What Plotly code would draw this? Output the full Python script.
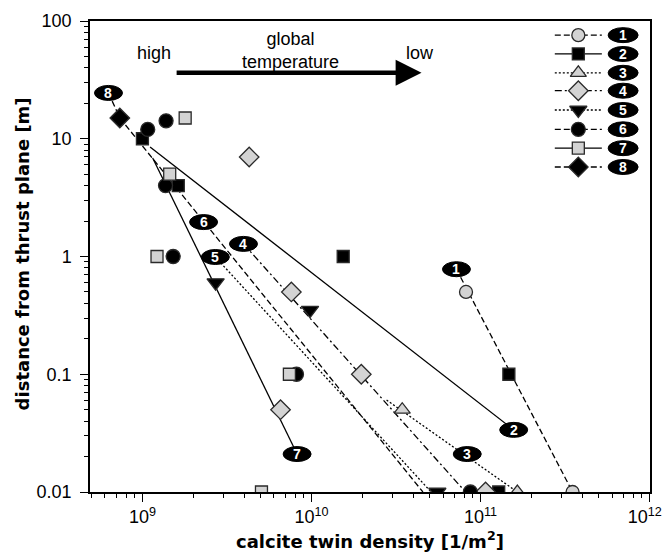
import math
import plotly.graph_objects as go

# ---------------- data ----------------
X_LOG_RANGE = [8.69, 12.002]   # log10 of 4.9e8 .. 1e12
Y_LOG_RANGE = [-2.0, 2.0]      # 0.01 .. 100

series_names = ["1", "2", "3", "4", "5", "6", "7", "8"]

s1_x = [8.2e10, 3.5e11]
s1_y = [0.5, 0.01]
s2_x = [1.0e9, 1.63e9, 1.54e10, 1.47e11, 1.28e11]
s2_y = [10, 4, 1, 0.1, 0.01]
s3_x = [3.44e10, 1.65e11]
s3_y = [0.05, 0.01]
s4_x = [4.28e9, 7.6e9, 1.97e10, 6.56e9, 1.07e11]
s4_y = [7, 0.5, 0.1, 0.05, 0.01]
s5_x = [2.71e9, 9.8e9, 5.55e10]
s5_y = [0.6, 0.35, 0.01]
s6_x = [1.075e9, 1.38e9, 1.37e9, 1.52e9, 8.15e9, 8.7e10]
s6_y = [12, 14.2, 4, 1, 0.1, 0.01]
s7_x = [1.79e9, 1.45e9, 1.22e9, 7.4e9, 5.06e9]
s7_y = [15, 5, 1, 0.1, 0.01]
s8_x = [7.35e8]
s8_y = [15]

# trend lines (log-log fits) drawn in the figure
fit1_x = [7.2e10, 3.5e11]
fit1_y = [0.78, 0.01]
fit2_x = [1.11e9, 1.57e11]
fit2_y = [8.5, 0.0337]
fit3_x = [2.78e10, 1.65e11]
fit3_y = [0.0604, 0.01]
fit4_x = [3.96e9, 8.15e10]
fit4_y = [1.28, 0.01]
fit5_x = [2.7e9, 5.1e10]
fit5_y = [0.99, 0.01]
fit6_x = [7.35e8, 4.56e10]
fit6_y = [15, 0.01]
fit7_x = [1.15e9, 8.22e9]
fit7_y = [6.87, 0.021]
fit8_x = [6.3e8, 7.35e8]
fit8_y = [24.5, 15]

# numbered labels placed on the trend lines
label_x = [7.2e10, 1.57e11, 8.34e10, 3.96e9, 2.7e9, 2.3e9, 8.22e9, 6.3e8]
label_y = [0.78, 0.0337, 0.021, 1.28, 0.99, 1.96, 0.021, 24.5]

# axis ticks
x_tick_vals = [1e9, 1e10, 1e11, 1e12]
x_tick_text = ["10<sup>9</sup>", "10<sup>10</sup>", "10<sup>11</sup>",
               "10<sup>12</sup>\u00a0\u00a0"]
minor_digits = [2, 3, 4, 5, 6, 7, 8, 9]
x_minor_decades = [8, 9, 10, 11]
y_minor_decades = [-2, -1, 0, 1]

x_title = "calcite twin density [1/m<sup>2</sup>]"
y_title = "distance from thrust plane [m]"

# ---------------- styles ----------------
GRAY = "#d3d3d3"
EDGE = "#2a2a2a"
FONT = "Liberation Sans, Arial, sans-serif"
TFONT = "DejaVu Sans, Liberation Sans, sans-serif"

data_x = [s1_x, s2_x, s3_x, s4_x, s5_x, s6_x, s7_x, s8_x]
data_y = [s1_y, s2_y, s3_y, s4_y, s5_y, s6_y, s7_y, s8_y]
fits_x = [fit1_x, fit2_x, fit3_x, fit4_x, fit5_x, fit6_x, fit7_x, fit8_x]
fits_y = [fit1_y, fit2_y, fit3_y, fit4_y, fit5_y, fit6_y, fit7_y, fit8_y]

symbols = ["circle", "square", "triangle-up", "diamond", "triangle-down", "circle", "square", "diamond"]
fills = [GRAY, "black", GRAY, GRAY, "black", "black", GRAY, "black"]
sizes = [13, 12, 14, 15, 15, 14, 12, 15]
dashes = ["6px,3px", "solid", "2px,2px", "7px,3px,2px,3px", "2px,2px", "6px,3px", "solid", "6px,3px"]

fig = go.Figure()

# trend lines
for i in range(8):
    fig.add_trace(go.Scatter(
        x=fits_x[i], y=fits_y[i], mode="lines",
        line=dict(color="black", width=1.3, dash=dashes[i]),
        showlegend=False, hoverinfo="skip"))

# data markers
for i in range(8):
    fig.add_trace(go.Scatter(
        x=data_x[i], y=data_y[i], mode="markers",
        marker=dict(symbol=symbols[i], size=sizes[i], color=fills[i],
                    line=dict(color=EDGE, width=1.3)),
        showlegend=False, name=series_names[i]))


def fx(v):
    return (math.log10(v) - X_LOG_RANGE[0]) / (X_LOG_RANGE[1] - X_LOG_RANGE[0])


def fy(v):
    return (math.log10(v) - Y_LOG_RANGE[0]) / (Y_LOG_RANGE[1] - Y_LOG_RANGE[0])


shapes = []
annotations = []


def ellipse_label(xf, yf, txt, hw=14):
    shapes.append(dict(type="circle", xref="x2", yref="y2",
                       xsizemode="pixel", ysizemode="pixel",
                       xanchor=xf, yanchor=yf, x0=-hw, x1=hw, y0=-7.5, y1=7.5,
                       fillcolor="black", line=dict(color="black", width=1)))
    annotations.append(dict(xref="x2", yref="y2", x=xf, y=yf, text="<b>%s</b>" % txt,
                            showarrow=False, font=dict(color="white", size=14, family=FONT),
                            xanchor="center", yanchor="middle"))


for i in range(8):
    ellipse_label(fx(label_x[i]), fy(label_y[i]), series_names[i])

# custom legend (in plot-area fractions)
leg_rows = [0.970, 0.930, 0.890, 0.852, 0.811, 0.770, 0.730, 0.690]
for i in range(8):
    ry = leg_rows[i]
    fig.add_trace(go.Scatter(
        x=[0.830, 0.914], y=[ry, ry], xaxis="x2", yaxis="y2", mode="lines",
        line=dict(color="black", width=1.3, dash=dashes[i]),
        showlegend=False, hoverinfo="skip"))
    fig.add_trace(go.Scatter(
        x=[0.872], y=[ry], xaxis="x2", yaxis="y2", mode="markers",
        marker=dict(symbol=symbols[i], size=sizes[i], color=fills[i],
                    line=dict(color=EDGE, width=1.3)),
        showlegend=False, hoverinfo="skip"))
    ellipse_label(0.952, ry, series_names[i], hw=15)

# temperature arrow and texts
annotations.append(dict(xref="x2", yref="y2", x=0.592, y=0.890, ax=0.152, ay=0.890,
                        axref="x2", ayref="y2", showarrow=True, arrowhead=2,
                        arrowsize=1.15, arrowwidth=4.5, arrowcolor="black", text=""))
annotations.append(dict(xref="x2", yref="y2", x=0.114, y=0.933, text="high",
                        showarrow=False, font=dict(size=18, family=FONT, color="black")))
annotations.append(dict(xref="x2", yref="y2", x=0.358, y=0.938,
                        text="global<br>temperature", showarrow=False,
                        font=dict(size=18, family=FONT, color="black")))
annotations.append(dict(xref="x2", yref="y2", x=0.589, y=0.933, text="low",
                        showarrow=False, font=dict(size=18, family=FONT, color="black")))

# axis titles
annotations.append(dict(xref="paper", yref="paper", x=0.5, y=-0.102, text="<b>%s</b>" % x_title,
                        showarrow=False, xanchor="center", yanchor="middle",
                        font=dict(size=18, family=TFONT, color="black")))
annotations.append(dict(xref="paper", yref="paper", x=-0.121, y=0.505, text="<b>%s</b>" % y_title,
                        showarrow=False, xanchor="center", yanchor="middle", textangle=-90,
                        font=dict(size=18, family=TFONT, color="black")))

x_minor_vals = [d * 10.0 ** e for e in x_minor_decades for d in minor_digits]
x_minor_vals = [v for v in x_minor_vals if X_LOG_RANGE[0] <= math.log10(v) <= X_LOG_RANGE[1]]
y_minor_vals = [d * 10.0 ** e for e in y_minor_decades for d in minor_digits]

axis_common = dict(showline=True, linecolor="black", linewidth=1.5, mirror=True,
                   ticks="outside", ticklen=8, tickwidth=1.3, tickcolor="black",
                   showgrid=False, zeroline=False, automargin=False,
                   ticklabeloverflow="allow",
                   tickfont=dict(size=18, family=FONT, color="black"))
minor_common = dict(tickmode="array", ticks="outside", ticklen=4.5, tickwidth=1.1,
                    tickcolor="black", showgrid=False)

fig.update_layout(
    width=665, height=555,
    margin=dict(l=90, r=15, t=21, b=63),
    paper_bgcolor="white", plot_bgcolor="white",
    font=dict(family=FONT, color="black"),
    xaxis=dict(type="log", range=X_LOG_RANGE, tickmode="array", tickvals=x_tick_vals,
               ticktext=x_tick_text, ticklabelstandoff=0,
               minor=dict(tickvals=x_minor_vals, **minor_common), **axis_common),
    yaxis=dict(type="log", range=Y_LOG_RANGE, dtick=1, ticklabelstandoff=5,
               minor=dict(tickvals=y_minor_vals, **minor_common), **axis_common),
    xaxis2=dict(overlaying="x", range=[0, 1], visible=False, fixedrange=True),
    yaxis2=dict(overlaying="y", range=[0, 1], visible=False, fixedrange=True),
    shapes=shapes,
    annotations=annotations,
    showlegend=False,
)

fig.write_html("out.html")
